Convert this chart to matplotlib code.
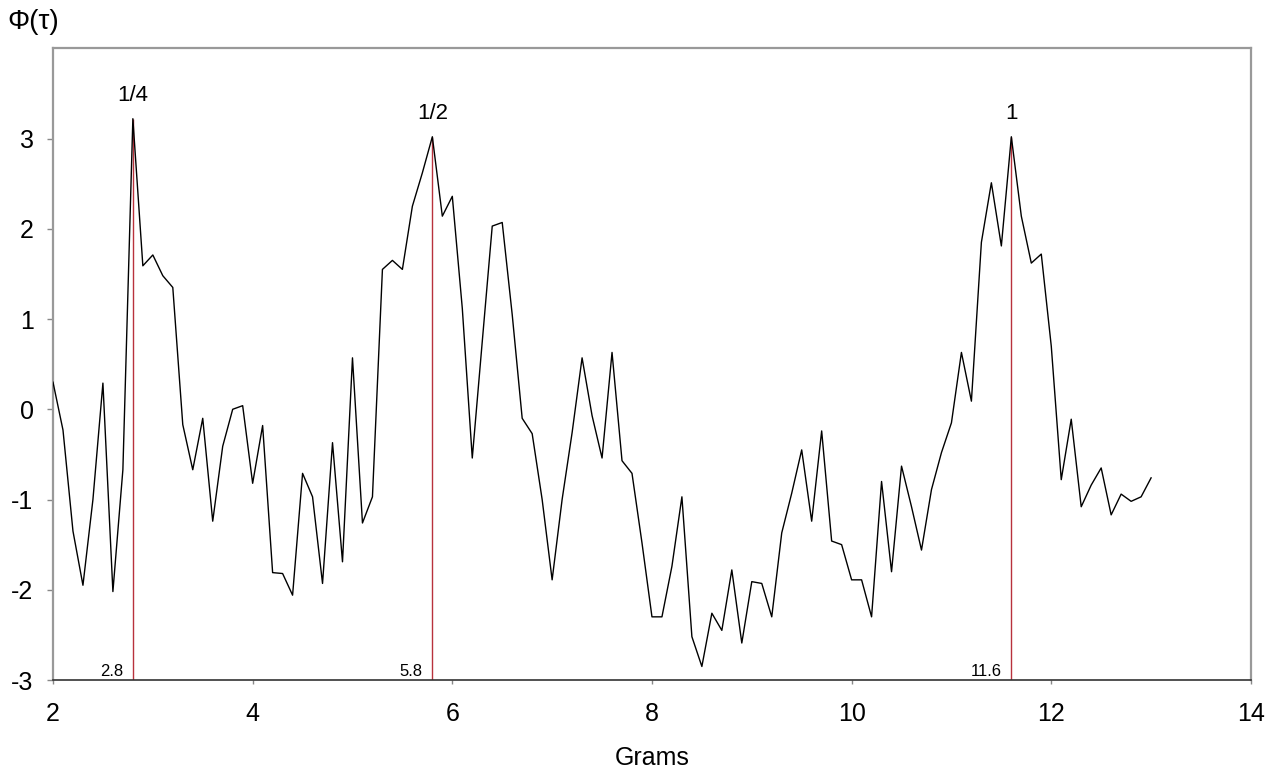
import numpy as np
import matplotlib
matplotlib.use("Agg")
import matplotlib.pyplot as plt

plt.rcParams['font.family'] = ['Liberation Sans', 'DejaVu Sans']
plt.rcParams['axes.unicode_minus'] = False

# Phase function sampled every 0.1 g from 2.0 to 13.0
grams = np.round(np.arange(2.0, 13.0001, 0.1), 1)
phi = [
    0.30, -0.23, -1.35, -1.95, -1.00, 0.29, -2.02, -0.67, 3.22, 1.59,   # 2.0 - 2.9
    1.71, 1.48, 1.35, -0.17, -0.67, -0.10, -1.24, -0.41, 0.00, 0.04,    # 3.0 - 3.9
    -0.82, -0.18, -1.81, -1.82, -2.06, -0.71, -0.97, -1.93, -0.37, -1.69,  # 4.0 - 4.9
    0.57, -1.26, -0.97, 1.55, 1.65, 1.55, 2.25, 2.62, 3.02, 2.14,      # 5.0 - 5.9
    2.36, 1.12, -0.54, 0.75, 2.03, 2.07, 1.05, -0.10, -0.27, -1.00,    # 6.0 - 6.9
    -1.89, -1.00, -0.26, 0.57, -0.07, -0.54, 0.63, -0.57, -0.71, -1.48,  # 7.0 - 7.9
    -2.30, -2.30, -1.74, -0.97, -2.52, -2.85, -2.26, -2.45, -1.78, -2.59,  # 8.0 - 8.9
    -1.91, -1.93, -2.30, -1.37, -0.93, -0.45, -1.24, -0.24, -1.46, -1.50,  # 9.0 - 9.9
    -1.89, -1.89, -2.30, -0.80, -1.80, -0.63, -1.08, -1.56, -0.89, -0.48,  # 10.0 - 10.9
    -0.15, 0.63, 0.09, 1.85, 2.51, 1.81, 3.02, 2.14, 1.62, 1.72,      # 11.0 - 11.9
    0.70, -0.78, -0.11, -1.08, -0.84, -0.65, -1.17, -0.94, -1.02, -0.97,  # 12.0 - 12.9
    -0.76,                                                              # 13.0
]

# Marked peaks: position and fraction label
peak_x = [2.8, 5.8, 11.6]
peak_labels = ["1/4", "1/2", "1"]
peak_values = [phi[int(round((p - 2.0) * 10))] for p in peak_x]

x_ticks = [2, 4, 6, 8, 10, 12, 14]
y_ticks = [-3, -2, -1, 0, 1, 2, 3]

fig = plt.figure(figsize=(12.71, 7.73), dpi=100)
ax = fig.add_axes([0.0417, 0.1203, 0.9425, 0.8172])

ax.plot(grams, phi, color="black", lw=1.0, zorder=3)

for px, pv, lab in zip(peak_x, peak_values, peak_labels):
    ax.vlines(px, -3, pv, color="#b8323c", lw=1.0, zorder=2)
    ax.annotate(lab, (px, pv), xytext=(0, 9), textcoords="offset points",
                ha="center", va="bottom", fontsize=16)
    ax.annotate(f"{px:g}", (px, -3), xytext=(-7, 1), textcoords="offset points",
                ha="right", va="bottom", fontsize=12)

ax.set_xlim(2, 14)
ax.set_ylim(-3, 4)
ax.set_xticks(x_ticks)
ax.set_yticks(y_ticks)
ax.tick_params(axis="both", labelsize=18, colors="#888888", labelcolor="black")
ax.tick_params(axis="x", length=3, width=1, pad=13)
ax.tick_params(axis="y", length=4, width=1, pad=10)

for side in ["left", "top", "right"]:
    ax.spines[side].set_color("#999999")
    ax.spines[side].set_linewidth(1.6)
ax.spines["bottom"].set_color("#333333")
ax.spines["bottom"].set_linewidth(1.2)

ax.set_xlabel("Grams", fontsize=18, labelpad=14)
fig.text(0.006, 0.972, "Φ(τ)", fontsize=20, ha="left", va="center")

fig.savefig("out.png", dpi=100)
